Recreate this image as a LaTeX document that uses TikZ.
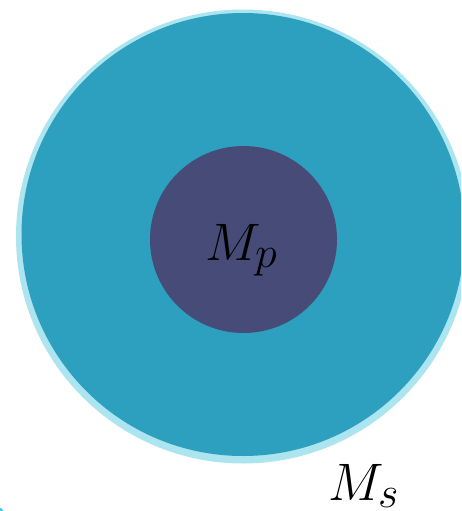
\documentclass[tikz,border=0pt]{standalone}
\definecolor{ringcol}{RGB}{172,228,240}
\definecolor{bigcol}{RGB}{44,160,190}
\definecolor{smallcol}{RGB}{71,75,119}
\definecolor{cornercol}{RGB}{60,200,230}
\tikzset{lbl/.style={inner sep=0pt, anchor=base west, font=\Huge}}
\begin{document}
\begin{tikzpicture}[x=1pt,y=-1pt]
\useasboundingbox (0,0) rectangle (461,511);
\begin{scope}
\clip (0,0) rectangle (461,511);
\fill[ringcol] (243,236.5) circle (227);
\fill[bigcol] (243,234.5) circle (221.5);
\fill[smallcol] (243.5,239.5) circle (93.5);
\fill[cornercol] (0,511) circle (3);
\end{scope}
\node[lbl] (mp) at (205,260) {\scalebox{2.12}{$M_p$}};
\node[lbl] (ms) at (328,500) {\scalebox{2.12}{$M_s$}};
\end{tikzpicture}
\end{document}
